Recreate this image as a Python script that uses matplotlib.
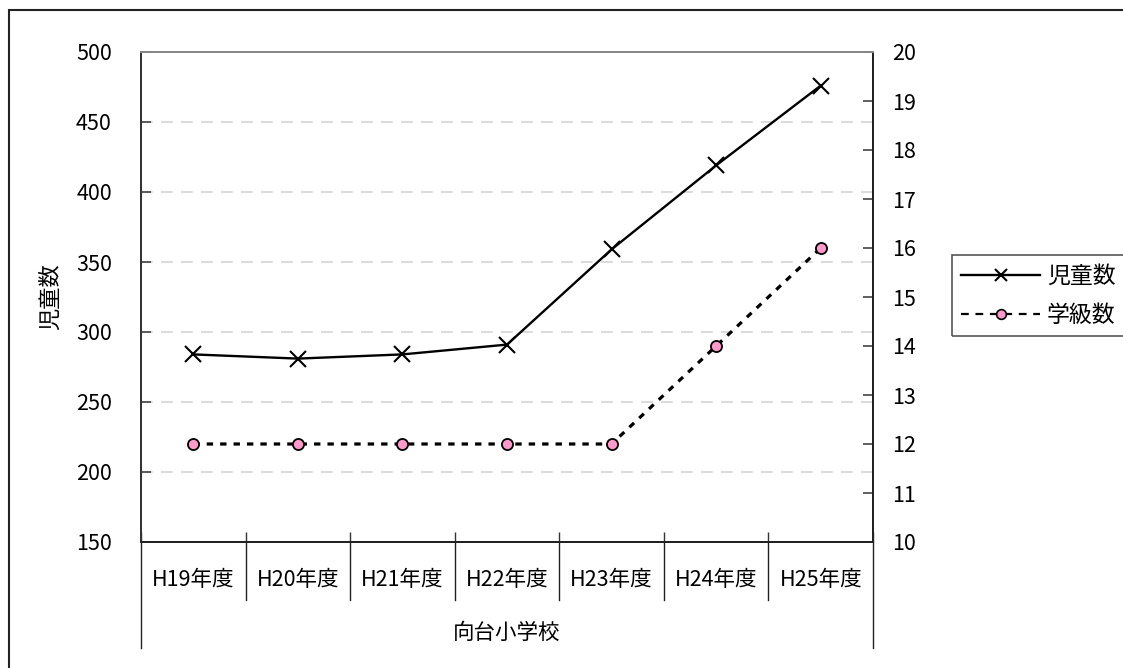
import matplotlib
matplotlib.use("Agg")
import matplotlib.pyplot as plt
from matplotlib.patches import Rectangle
from matplotlib.lines import Line2D
import matplotlib.transforms as mtransforms

plt.rcParams['font.family'] = ['Noto Sans CJK JP', 'DejaVu Sans']

# data
years = ["H19年度", "H20年度", "H21年度", "H22年度", "H23年度", "H24年度", "H25年度"]
school = "向台小学校"
children = [284, 281, 284, 291, 359, 419, 476]
classes = [12, 12, 12, 12, 12, 14, 16]
left_ticks = [150, 200, 250, 300, 350, 400, 450, 500]
right_ticks = [10, 11, 12, 13, 14, 15, 16, 17, 18, 19, 20]

W, H = 1123, 668
FS = 15.5
fig = plt.figure(figsize=(W / 100, H / 100), dpi=100)
fig.patch.set_facecolor("white")


def px(x, y):
    """Pixel position (from top-left) to figure fraction."""
    return x / W, 1 - y / H


# outer chart frame (runs past the right and bottom edges)
fig.add_artist(Rectangle(px(8.5, 700), 1.5, (700 - 10.5) / H,
                         transform=fig.transFigure, fill=False,
                         edgecolor="#222222", linewidth=1.5))

L, R, T, B = 141, 873, 52, 542
ax = fig.add_axes([L / W, 1 - B / H, (R - L) / W, (B - T) / H])
ax2 = ax.twinx()

x = list(range(len(years)))

# gridlines on the left scale
ax.set_ylim(150, 500)
ax.set_yticks(left_ticks)
for v in left_ticks[1:-1]:
    ax.axhline(v, color="#d4d4d4", linewidth=1.2, dashes=(7, 5), zorder=0)

ax.set_xlim(-0.5, len(years) - 0.5)
ax.set_xticks([i - 0.5 for i in range(len(years) + 1)])
ax.set_xticklabels([])
ax.tick_params(axis="x", direction="in", length=7, width=1, color="#333333")
ax.tick_params(axis="y", direction="in", length=7, width=1.2, color="#444444",
               labelsize=FS, pad=21)

ax.plot(x, children, color="black", linewidth=1.7, marker="x",
        markersize=12, markeredgewidth=1.5, zorder=5, clip_on=False)

ax2.set_ylim(10, 20)
ax2.set_yticks(right_ticks)
ax2.tick_params(axis="y", direction="in", length=7, width=1.2, color="#444444",
                labelsize=FS, pad=14)
ax2.plot(x, classes, color="black", linewidth=2.3, dashes=(2, 2.2),
         marker="o", markersize=8, markerfacecolor="#ff99cc",
         markeredgecolor="black", markeredgewidth=1.3, zorder=5, clip_on=False)

for a in (ax, ax2):
    a.spines["top"].set_color("#888888")
    a.spines["left"].set_color("#333333")
    a.spines["right"].set_color("#222222")
    a.spines["bottom"].set_color("#222222")
    for s in a.spines.values():
        s.set_linewidth(1.4)

# left axis title
fig.text(*px(51, 297), "児童数", rotation=90, ha="center", va="center",
         fontsize=16)

# category axis: separators, year labels and the school group label
trans = mtransforms.blended_transform_factory(ax.transData, ax.transAxes)
n = len(years)
for k in range(n + 1):
    bottom = -0.216 if k in (0, n) else -0.118
    ax.plot([k - 0.5, k - 0.5], [0, bottom], color="#222222", linewidth=1,
            transform=trans, clip_on=False)
for i, lab in enumerate(years):
    ax.text(i, -0.078, lab, transform=trans, ha="center", va="center",
            fontsize=FS)
ax.text((n - 1) / 2, -0.186, school, transform=trans, ha="center",
        va="center", fontsize=FS)

# legend (its frame runs off the right edge)
fig.add_artist(Rectangle(px(952, 336), 200 / W, 81 / H,
                         transform=fig.transFigure, fill=False,
                         edgecolor="#555555", linewidth=1.2))
handles = [
    Line2D([], [], color="black", linewidth=1.7, marker="x", markersize=9,
           markeredgewidth=1.5),
    Line2D([], [], color="black", linewidth=1.6, dashes=(3.5, 3), marker="o",
           markersize=7, markerfacecolor="#ff99cc", markeredgecolor="black",
           markeredgewidth=1.2),
]
leg = fig.legend(handles, ["児童数", "学級数"], loc="center left",
                 bbox_to_anchor=px(961, 296), fontsize=16.5,
                 frameon=False, handlelength=3.45, handletextpad=0.3,
                 borderpad=0, labelspacing=0.68, borderaxespad=0)

fig.savefig("out.png", dpi=100, facecolor="white")
